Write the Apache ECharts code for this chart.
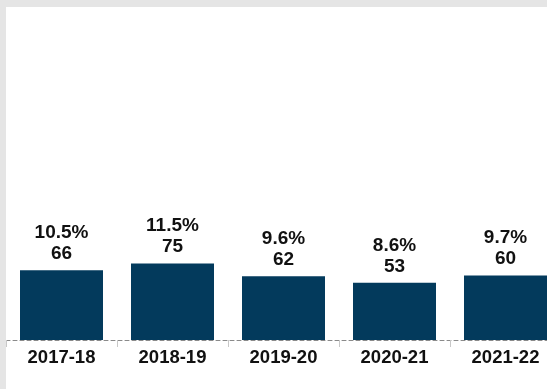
<!DOCTYPE html>
<html><head><meta charset="utf-8">
<script src="https://cdn.jsdelivr.net/npm/echarts@6/dist/echarts.min.js"></script>
<style>
html,body{margin:0;padding:0;background:#e5e5e5;width:547px;height:389px;overflow:hidden;position:relative}
#c{position:absolute;left:6px;top:7px;width:555px;height:382px;background:#fff}
</style></head>
<body><div id="c"></div>
<script>
const categories = ['2017-18','2018-19','2019-20','2020-21','2021-22'];
const percentages = [10.5, 11.5, 9.6, 8.6, 9.7];
const counts = [66, 75, 62, 53, 60];

const chart = echarts.init(document.getElementById('c'), null, {renderer:'canvas'});
chart.setOption({
  animation:false,
  grid:{left:0, top:67, right:0, height:266, containLabel:false},
  xAxis:{
    type:'category', data:categories, boundaryGap:true,
    axisLine:{show:true, lineStyle:{color:'#8a8a8a', width:1, type:[4,3]}},
    axisTick:{show:true, length:7, lineStyle:{color:'#c8c8c8', width:1}},
    axisLabel:{color:'#111', fontSize:18.5, fontWeight:'bold', fontFamily:'Liberation Sans, Arial, sans-serif', margin:8}
  },
  yAxis:{type:'value', min:0, max:40, show:false, splitLine:{show:false}},
  series:[{
    type:'bar', data:percentages, barWidth:83,
    itemStyle:{color:'#033a5c'},
    label:{
      show:true, position:'top', distance:6,
      color:'#111', fontSize:19, fontWeight:'bold', lineHeight:21,
      fontFamily:'Liberation Sans, Arial, sans-serif',
      formatter:p => percentages[p.dataIndex].toFixed(1) + '%\n' + counts[p.dataIndex]
    }
  }]
});
</script></body></html>
